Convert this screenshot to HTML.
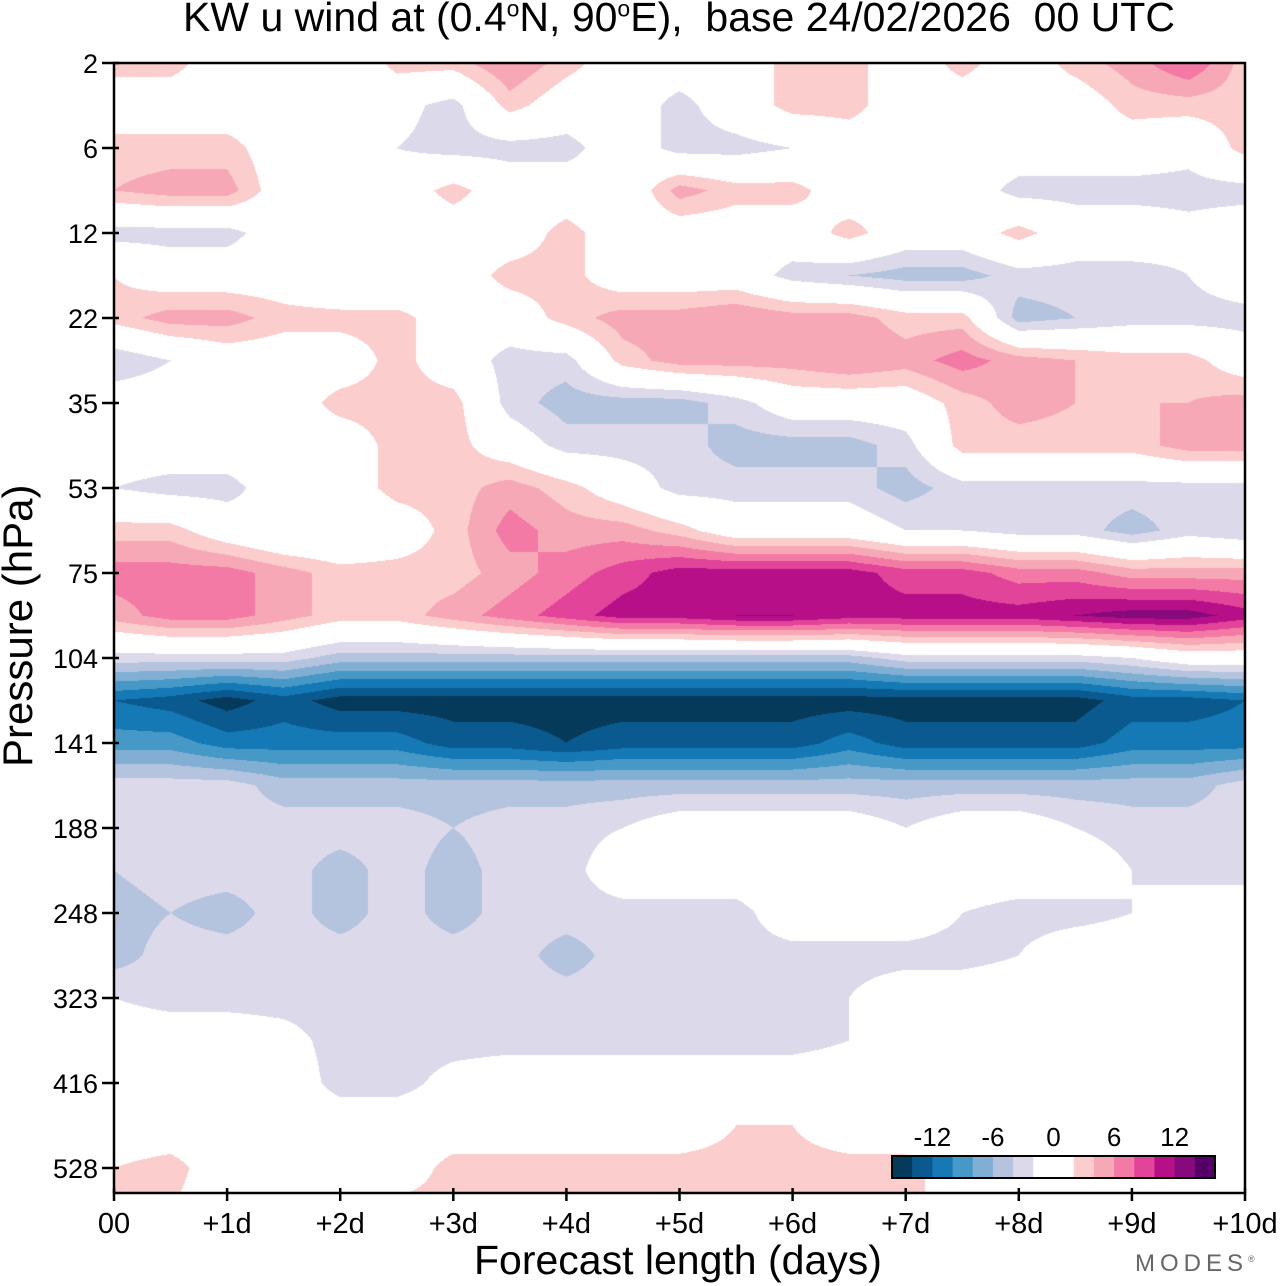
<!DOCTYPE html>
<html><head><meta charset="utf-8"><style>
body{margin:0;background:#fff;width:1280px;height:1286px;position:relative;overflow:hidden;font-family:"Liberation Sans",sans-serif;}
.t{position:absolute;white-space:nowrap;color:#000}
</style></head><body>
<div class="t" style="left:0;width:1358px;text-align:center;top:-6px;font-size:41px;">KW u wind at (0.4<sup style="font-size:23px">o</sup>N, 90<sup style="font-size:23px">o</sup>E),&nbsp; base 24/02/2026&nbsp; 00 UTC</div>
<canvas id="cv" width="1280" height="1286" style="position:absolute;left:0;top:0"></canvas>
<svg id="sv" width="1280" height="1286" style="position:absolute;left:0;top:0"></svg>
<div class="t" style="left:-122px;top:603px;font-size:42px;transform:rotate(-90deg);width:280px;text-align:center;">Pressure (hPa)</div>
<div class="t" style="left:474px;top:1237px;font-size:41px;">Forecast length (days)</div>
<div class="t" style="left:1135px;top:1250px;font-size:24px;color:#666;letter-spacing:5px;">MODES<sup style="font-size:9px">®</sup></div>
<script>
const yTicks=["2","6","12","22","35","53","75","104","141","188","248","323","416","528"];
const xTicks=["00","+1d","+2d","+3d","+4d","+5d","+6d","+7d","+8d","+9d","+10d"];
const levels=[-14,-12,-10,-8,-6,-4,-2,2,4,6,8,10,12,14];
const legendLabels=["-12","-6","0","6","12"];
const legendValues=[-12,-6,0,6,12];
const colors=["#053a5a","#0a5a8f","#1479b5","#4698c6","#80afd3","#b4c3de","#dcdaea","#ffffff","#fbcdcc","#f7a8b7","#f47aa6","#e2449a","#b70f87","#860a7c","#540068"];
const grid=[
[3,3,0,0,-2,3,3,6,3,0,0,0,3,3,0,3,0,3,5,8,3],
[0,0,0,0,0,-1,-3,3,0,0,-3,0,3,3,0,0,0,0,3,3,3],
[3,3,3,0,0,-2,-3,-3,-3,0,-3,-3,-2,0,0,0,0,0,0,-1,3],
[4,5,5,0,0,0,3,0,0,-1,5,3,3,0,2,0,-3,-3,-3,-3,-3],
[-3,-3,-3,0,0,0,0,0,3,0,0,0,0,3,0,0,3,0,0,-1,0],
[2,0,0,0,-2,-2,0,3,3,0,0,0,-3,-4,-5,-5,-3,-3,-3,-2,0],
[3,5,5,3,3,3,0,0,3,5,5,6,5,5,3,3,-5,-4,-3,-3,-3],
[-4,-2,0,0,0,3,0,-3,-3,3,5,5,5,6,5,7,5,4,3,3,0],
[0,0,0,0,3,3,3,-3,-5,-5,-5,-3,0,0,0,3,5,4,4,4,5],
[0,0,0,0,0,3,3,0,-3,-3,-3,-5,-5,-5,-3,3,3,3,3,5,5],
[-2,-3,-3,0,0,3,3,5,3,0,-3,-3,-3,-3,-5,-3,-3,-3,-3,-3,-3],
[3,3,0,-2,-2,0,3,7,5,5,3,0,0,0,-2,-2,-3,-3,-5,-3,-4],
[7,7,7,5,3,3,3,5,7,9,11,11,11,11,9,9,7,7,5,5,5],
[5,7,7,5,3,3,5,7,9,11,11,12,12,11,11,11,11,12,13,13,11],
[-3,-3,-3,-3,-5,-5,-5,-5,-5,-5,-5,-5,-5,-5,-3,-3,-3,-3,-2,0,0],
[-12,-13,-15,-13,-15,-15,-15,-15,-15,-15,-15,-15,-15,-15,-15,-15,-15,-15,-13,-13,-12],
[-9,-9,-11,-11,-11,-11,-13,-13,-14,-13,-13,-13,-13,-11,-13,-13,-13,-13,-11,-11,-11],
[-3,-3,-3,-5,-5,-5,-5,-5,-5,-5,-5,-5,-5,-5,-5,-5,-5,-5,-5,-5,-3],
[-3,-3,-3,-3,-3,-3,-4,-3,-3,-2,0,0,0,0,-2,0,0,-2,-3,-3,-3],
[-4,-3,-3,-3,-5,-3,-5,-3,-3,0,0,0,0,0,0,0,0,0,-2,-3,-3],
[-5,-4,-5,-3,-5,-3,-5,-3,-3,-3,-3,-3,0,0,0,-2,-3,-3,-2,0,0],
[-5,-3,-3,-3,-3,-3,-3,-3,-5,-3,-3,-3,-3,-3,-3,-3,-2,0,0,0,0],
[-2,-3,-3,-3,-3,-3,-3,-3,-3,-3,-3,-3,-3,-2,0,0,0,0,0,0,0],
[0,0,0,-1,-3,-3,-3,-3,-3,-3,-3,-3,-3,-2,0,0,0,0,0,0,0],
[0,0,0,0,-3,-3,-1,0,0,0,0,0,0,0,0,0,0,0,0,0,0],
[0,0,0,0,0,0,0,0,0,0,0,2,2,0,0,0,0,0,0,0,0],
[2,3,0,0,0,0,3,3,3,3,3,3,3,3,3,0,0,0,0,0,0],
[3,2,0,0,3,3,3,3,3,3,3,3,3,3,3,0,0,0,0,0,0]
];
const X0=114,X1=1245,Y0=63,Y1=1193,rowH=42.5;
const nC=grid[0].length,nR=grid.length;
function bin(v){let i=0;while(i<levels.length&&v>=levels[i])i++;return i;}
function hex(h){return [parseInt(h.substr(1,2),16),parseInt(h.substr(3,2),16),parseInt(h.substr(5,2),16)];}
const rgb=colors.map(hex);
const cv=document.getElementById('cv'),ctx=cv.getContext('2d');
const W=X1-X0,H=Y1-Y0;
const img=ctx.createImageData(W,H);
for(let py=0;py<H;py++){
  let fr=(py+0.5)/rowH; if(fr>nR-1)fr=nR-1;
  const r0=Math.min(Math.floor(fr),nR-2),ty=fr-r0;
  for(let px=0;px<W;px++){
    const fc=(px+0.5)/W*(nC-1);
    const c0=Math.min(Math.floor(fc),nC-2),tx=fc-c0;
    const v=(grid[r0][c0]*(1-tx)+grid[r0][c0+1]*tx)*(1-ty)+(grid[r0+1][c0]*(1-tx)+grid[r0+1][c0+1]*tx)*ty;
    const col=rgb[bin(v)],k=(py*W+px)*4;
    img.data[k]=col[0];img.data[k+1]=col[1];img.data[k+2]=col[2];img.data[k+3]=255;
  }
}
ctx.putImageData(img,X0,Y0);
const sv=document.getElementById('sv'),NS='http://www.w3.org/2000/svg';
function mk(tag,attrs,parent){const e=document.createElementNS(NS,tag);for(const k in attrs)e.setAttribute(k,attrs[k]);(parent||sv).appendChild(e);return e;}
let e=mk('rect',{x:X0,y:Y0,width:X1-X0,height:Y1-Y0,fill:'none',stroke:'#000','stroke-width':2.5});


yTicks.forEach((t,i)=>{
  const y=Y0+i*85;
  let l=mk('line',{x1:X0-12,x2:X0+5,y1:y,y2:y,stroke:'#000','stroke-width':2.5});
  
  
  let tx=mk('text',{x:X0-16,y:y+10,'text-anchor':'end','font-size':27,'font-family':'Liberation Sans'});
  tx.textContent=t;
  
  
});
xTicks.forEach((t,i)=>{
  const x=X0+(X1-X0)*i/(xTicks.length-1);
  let l=mk('line',{x1:x,x2:x,y1:Y1-5,y2:Y1+8,stroke:'#000','stroke-width':2.5});
  
  
  let tx=mk('text',{x:x,y:Y1+40,'text-anchor':'middle','font-size':29,'font-family':'Liberation Sans'});
  tx.textContent=t;
  
  
});
const LX=892,LW=323,LY=1156,LH=22,unit=LW/16;
let pos=LX;
colors.forEach((c,i)=>{
  const w=(i===7?2:1)*unit;
  let r=mk('rect',{x:pos,y:LY,width:w+0.5,height:LH,fill:c});
  
  
  pos+=w;
});
e=mk('rect',{x:LX,y:LY,width:LW,height:LH,fill:'none',stroke:'#000','stroke-width':2});


legendLabels.forEach((t,i)=>{
  const v=legendValues[i];
  const x=LX+unit*8+(v===0?0:(Math.sign(v)*(1+(Math.abs(v)-2)/2)*unit));
  let tx=mk('text',{x:x,y:LY-10,'text-anchor':'middle','font-size':26,'font-family':'Liberation Sans'});
  tx.textContent=t;
  
  
});
</script>
</body></html>
